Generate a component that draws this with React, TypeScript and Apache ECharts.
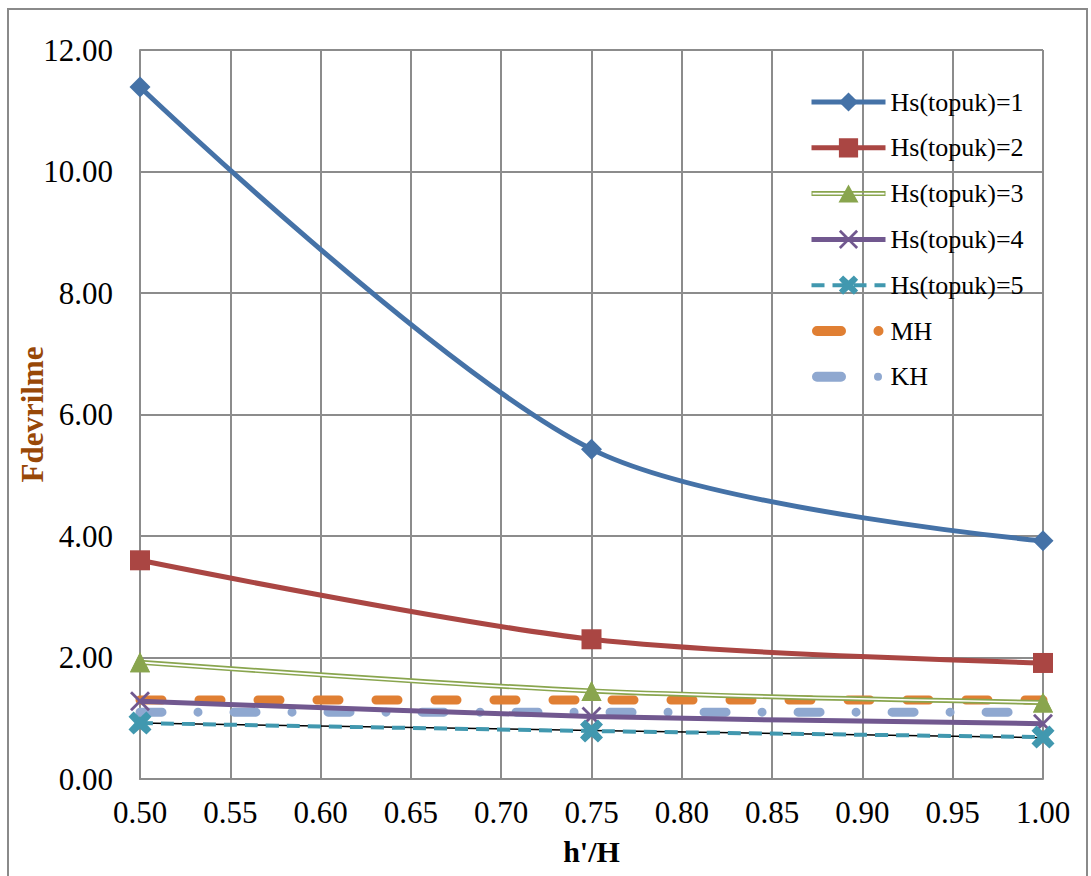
import React, { useEffect, useRef } from "react";
import * as echarts from "echarts";

const xValues = [0.5, 0.75, 1.0];
const hs1 = [11.39, 5.43, 3.92];
const hs2 = [3.6, 2.3, 1.91];
const hs3 = [1.92, 1.45, 1.26];
const hs4 = [1.28, 1.03, 0.91];
const hs5 = [0.92, 0.79, 0.69];
const trend5 = [0.92, 0.8, 0.68];
const mh = [1.3, 1.3, 1.3];
const kh = [1.1, 1.1, 1.1];
const seriesNames = ["Hs(topuk)=1", "Hs(topuk)=2", "Hs(topuk)=3", "Hs(topuk)=4", "Hs(topuk)=5", "MH", "KH"];

const FONT = "Liberation Serif";
const xSymbol = "path://M0 1 L1 0 L5 4 L9 0 L10 1 L6 5 L10 9 L9 10 L5 6 L1 10 L0 9 L4 5 Z";
const starSymbol = "path://M0 2.2 L2.2 0 L5 2.6 L7.8 0 L10 2.2 L7.4 5 L10 7.8 L7.8 10 L5 7.4 L2.2 10 L0 7.8 L2.6 5 Z";
// legend icons drawn in a 74x24 box (tiny corner anchors keep the box)
const anchors = "M0 0 L0.01 0 L0 0.01 Z M74 24 L73.99 24 L74 23.99 Z ";
const hs3Icon =
  "path://" + anchors +
  "M0 9.5 L74 9.5 L74 14.5 L0 14.5 Z " +
  "M1 11.2 L1 12.8 L73 12.8 L73 11.2 Z " +
  "M37 3 L47 21 L27 21 Z";
const mhIcon =
  "path://" + anchors +
  "M5.5 7 L29.5 7 A5 5 0 0 1 29.5 17 L5.5 17 A5 5 0 0 1 5.5 7 Z " +
  "M72 12 A5 5 0 1 1 62 12 A5 5 0 1 1 72 12 Z";
const khIcon =
  "path://" + anchors +
  "M5.5 7 L29.5 7 A5 5 0 0 1 29.5 17 L5.5 17 A5 5 0 0 1 5.5 7 Z " +
  "M70.5 12 A4 4 0 1 1 62.5 12 A4 4 0 1 1 70.5 12 Z";

function pts(ys: number[]) {
  return xValues.map((x, i) => [x, ys[i]]);
}

export default function App() {
  const ref = useRef<HTMLDivElement>(null);
  useEffect(() => {
    if (!ref.current) return;
    const chart = echarts.init(ref.current, undefined, { renderer: "svg" });
    const gridColor = "#8c8c8c";
    const SM = 0.3;
    chart.setOption({
      animation: false,
      backgroundColor: "#ffffff",
      textStyle: { fontFamily: FONT },
      grid: { left: 140, right: 48, top: 50, bottom: 97, outerBoundsMode: "none", containLabel: false },
      graphic: [
        {
          type: "rect",
          shape: { x: 8, y: 9, width: 1079, height: 900 },
          style: { fill: "none", stroke: "#8a8a8a", lineWidth: 2 },
          z: -1,
        },
      ],
      legend: {
        data: seriesNames.map((n) =>
          n === "MH"
            ? { name: n, icon: mhIcon }
            : n === "KH"
            ? { name: n, icon: khIcon }
            : n === "Hs(topuk)=3"
            ? { name: n, icon: hs3Icon }
            : { name: n }
        ),
        orient: "vertical",
        left: 804,
        top: 84,
        itemWidth: 74,
        itemHeight: 24,
        itemGap: 19.8,
        lineStyle: { width: "inherit" },
        textStyle: { fontFamily: FONT, fontSize: 26, color: "#000", lineHeight: 26 },
      },
      xAxis: {
        type: "value",
        min: 0.5,
        max: 1.0,
        interval: 0.05,
        name: "h'/H",
        nameLocation: "middle",
        nameGap: 57,
        nameMoveOverlap: false,
        nameTextStyle: { fontFamily: FONT, fontSize: 30, fontWeight: "bold", color: "#000" },
        axisLine: { lineStyle: { color: gridColor, width: 2 } },
        axisTick: { show: false },
        axisLabel: {
          fontFamily: FONT,
          fontSize: 31,
          color: "#000",
          margin: 18,
          formatter: (v: number) => v.toFixed(2),
        },
        splitLine: { show: true, lineStyle: { color: gridColor, width: 2 } },
      },
      yAxis: {
        type: "value",
        min: 0,
        max: 12,
        interval: 2,
        name: "Fdevrilme",
        nameLocation: "middle",
        nameGap: 92,
        nameMoveOverlap: false,
        nameRotate: 90,
        nameTextStyle: { fontFamily: FONT, fontSize: 31, fontWeight: "bold", color: "#984807" },
        axisLine: { show: true, lineStyle: { color: gridColor, width: 2 } },
        axisTick: { show: false },
        axisLabel: {
          fontFamily: FONT,
          fontSize: 31,
          color: "#000",
          margin: 27,
          formatter: (v: number) => v.toFixed(2),
        },
        splitLine: { show: true, lineStyle: { color: gridColor, width: 2 } },
      },
      series: [
        {
          name: "MH",
          type: "line",
          data: pts(mh),
          symbol: "none",
          z: 2,
          lineStyle: { color: "#E07F33", width: 9, type: [22, 37], cap: "round" },
          itemStyle: { color: "#E07F33" },
        },
        {
          name: "KH",
          type: "line",
          data: pts(kh),
          symbol: "none",
          z: 2,
          lineStyle: { color: "#8FA8D0", width: 9, type: [22, 36, 0.01, 36], cap: "round" },
          itemStyle: { color: "#8FA8D0" },
        },
        {
          name: "Hs(topuk)=1",
          type: "line",
          data: pts(hs1),
          smooth: SM,
          symbol: "diamond",
          symbolSize: 21,
          z: 3,
          lineStyle: { color: "#4572A7", width: 5 },
          itemStyle: { color: "#4572A7" },
        },
        {
          name: "Hs(topuk)=2",
          type: "line",
          data: pts(hs2),
          smooth: SM,
          symbol: "rect",
          symbolSize: 20,
          z: 3,
          lineStyle: { color: "#AA4643", width: 5 },
          itemStyle: { color: "#AA4643" },
        },
        {
          name: "Hs(topuk)=3",
          type: "line",
          data: pts(hs3),
          smooth: SM,
          symbol: "triangle",
          symbolSize: 20,
          z: 3,
          lineStyle: { color: "#89A54E", width: 5 },
          itemStyle: { color: "#89A54E" },
        },
        {
          name: "hs3-inner",
          type: "line",
          data: pts(hs3),
          smooth: SM,
          symbol: "none",
          z: 3.5,
          silent: true,
          lineStyle: { color: "#ffffff", width: 1.6 },
        },
        {
          name: "hs3-markers",
          type: "line",
          data: pts(hs3),
          symbol: "triangle",
          symbolSize: 20,
          z: 4,
          lineStyle: { width: 0, opacity: 0 },
          itemStyle: { color: "#89A54E" },
        },
        {
          name: "Hs(topuk)=4",
          type: "line",
          data: pts(hs4),
          smooth: SM,
          symbol: xSymbol,
          symbolSize: 20,
          z: 4,
          lineStyle: { color: "#71588F", width: 5 },
          itemStyle: { color: "#71588F" },
        },
        {
          name: "trend5",
          type: "line",
          data: pts(trend5),
          symbol: "none",
          z: 4,
          lineStyle: { color: "#000000", width: 1.5 },
        },
        {
          name: "Hs(topuk)=5",
          type: "line",
          data: pts(hs5),
          smooth: SM,
          symbol: starSymbol,
          symbolSize: 23,
          z: 4.5,
          lineStyle: { color: "#4198AF", width: 4, type: [13, 8] },
          itemStyle: { color: "#4198AF" },
        },
      ],
    });
    return () => chart.dispose();
  }, []);
  return (
    <div
      ref={ref}
      style={{ position: "absolute", left: 0, top: 0, width: 1091, height: 876, background: "#fff" }}
    />
  );
}
